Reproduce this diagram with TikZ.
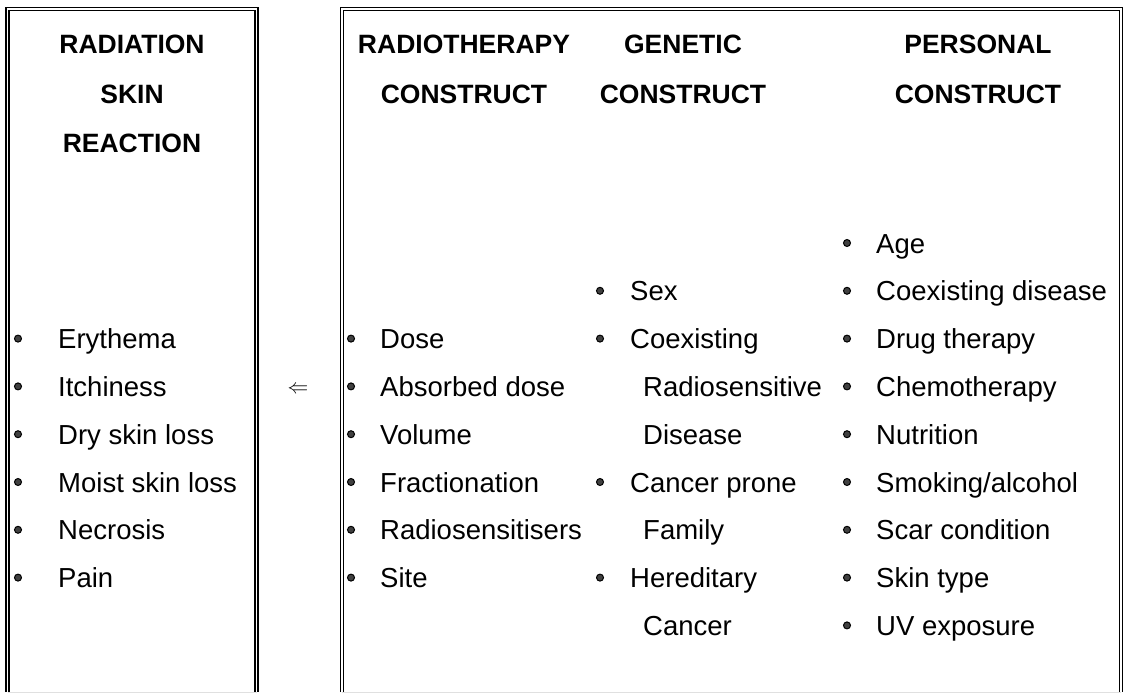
\documentclass[tikz,border=0pt]{standalone}
\usepackage{fontspec}
\setmainfont{Liberation Sans}
\begin{document}
\begin{tikzpicture}[x=1pt,y=-1pt,
  frame/.style={draw=black, line width=1.2pt, double=white, double distance=1.8pt},
  faint/.style={draw=black!12, line width=1pt},
  hdr/.style={font=\fontsize{26.5}{30}\selectfont\bfseries, inner sep=0pt, anchor=center},
  item/.style={font=\fontsize{27.5}{31}\selectfont, inner sep=0pt, anchor=base west},
  bul/.style={circle, fill=black!75, draw=black, line width=1pt, minimum size=7pt, inner sep=0pt}]
\useasboundingbox (0,0) rectangle (1129,693);

% frames
\draw[frame] (7.5,692) -- (7.5,9) -- (256.5,9) -- (256.5,692);
\draw[faint] (7.5,692) -- (256.5,692);
\draw[frame] (342,692) -- (342,9) -- (1121,9) -- (1121,692);
\draw[faint] (342,692) -- (1121,692);

% headers
\node[hdr] (h1) at (132,44) {RADIATION};
\node[hdr] (h2) at (132,94) {SKIN};
\node[hdr] (h3) at (132,143) {REACTION};
\node[hdr] (h4) at (464,44) {RADIOTHERAPY};
\node[hdr] (h5) at (464,94) {CONSTRUCT};
\node[hdr] (h6) at (683,44) {GENETIC};
\node[hdr] (h7) at (683,94) {CONSTRUCT};
\node[hdr] (h8) at (978,44) {PERSONAL};
\node[hdr] (h9) at (978,94) {CONSTRUCT};

% arrow
\node[inner sep=0pt, font=\fontsize{21}{24}\selectfont] (arr) at (298,390) {$\Leftarrow$};

% left column
\foreach \t [count=\i] in {Erythema,Itchiness,Dry skin loss,Moist skin loss,Necrosis,Pain}{
  \pgfmathsetmacro{\yy}{338.6+47.8*(\i-1)}
  \node[bul] (lb\i) at (18,\yy) {};
  \node[item] (l\i) at (58,\yy+10) {\t};
}
% radiotherapy column
\foreach \t [count=\i] in {Dose,Absorbed dose,Volume,Fractionation,Radiosensitisers,Site}{
  \pgfmathsetmacro{\yy}{338.6+47.8*(\i-1)}
  \node[bul] (rb\i) at (351,\yy) {};
  \node[item] (r\i) at (380,\yy+10) {\t};
}
% genetic column
\node[bul] (gb1) at (600,290.8) {};
\node[item] (g1) at (630,300.8) {Sex};
\node[bul] (gb2) at (600,338.6) {};
\node[item] (g2) at (630,348.6) {Coexisting};
\node[item] (g3) at (643,396.4) {Radiosensitive};
\node[item] (g4) at (643,444.2) {Disease};
\node[bul] (gb3) at (600,482) {};
\node[item] (g5) at (630,492) {Cancer prone};
\node[item] (g6) at (643,539.8) {Family};
\node[bul] (gb4) at (600,577.6) {};
\node[item] (g7) at (630,587.6) {Hereditary};
\node[item] (g8) at (643,635.4) {Cancer};

% personal column
\foreach \t [count=\i] in {Age,Coexisting disease,Drug therapy,Chemotherapy,Nutrition,Smoking/alcohol,Scar condition,Skin type,UV exposure}{
  \pgfmathsetmacro{\yy}{243+47.8*(\i-1)}
  \node[bul] (pb\i) at (847,\yy) {};
  \node[item] (p\i) at (876,\yy+10) {\t};
}
\end{tikzpicture}
\end{document}
